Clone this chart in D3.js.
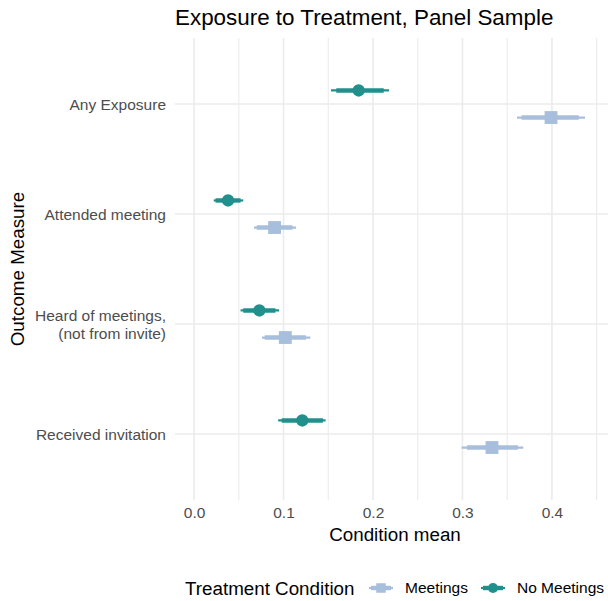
<!DOCTYPE html>
<html>
<head>
<meta charset="utf-8">
<script src="https://cdn.jsdelivr.net/npm/d3@7"></script>
<style>
  html, body { margin: 0; padding: 0; background: #ffffff; }
  svg { display: block; }
  text { font-family: "Liberation Sans", Arial, Helvetica, sans-serif; }
</style>
</head>
<body>
<script>
// ---------------- data ----------------
const categories = ["Any Exposure", "Attended meeting", "Heard of meetings,\n(not from invite)", "Received invitation"];
const seriesNames = ["Meetings", "No Meetings"];

const meetingsMean   = [0.399, 0.090, 0.102, 0.333];
const meetingsLo95   = [0.361, 0.067, 0.076, 0.299];
const meetingsHi95   = [0.437, 0.114, 0.130, 0.368];
const meetingsLo90   = [0.366, 0.070, 0.079, 0.305];
const meetingsHi90   = [0.430, 0.110, 0.125, 0.362];

const noMeetingsMean = [0.184, 0.038, 0.073, 0.121];
const noMeetingsLo95 = [0.153, 0.022, 0.052, 0.094];
const noMeetingsHi95 = [0.218, 0.055, 0.095, 0.147];
const noMeetingsLo90 = [0.159, 0.024, 0.055, 0.098];
const noMeetingsHi90 = [0.212, 0.052, 0.091, 0.144];

const xTicks = [0.0, 0.1, 0.2, 0.3, 0.4];
const xMinor = [0.05, 0.15, 0.25, 0.35, 0.45];

const titleText = "Exposure to Treatment, Panel Sample";
const xTitle = "Condition mean";
const yTitle = "Outcome Measure";
const legendTitle = "Treatment Condition";

// ---------------- layout ----------------
const W = 608, H = 601;
const panel = { left: 175, right: 615, top: 38, bottom: 500 };
const colors = { "Meetings": "#a7bedc", "No Meetings": "#21908c" };
const FONT_TICK = 15.5, FONT_TITLE = 22.4, FONT_AXIS = 18.8;

const svg = d3.select("body").append("svg").attr("width", W).attr("height", H);

const x = d3.scaleLinear().domain([-0.0213, 0.4705]).range([panel.left, panel.right]);
const y = d3.scalePoint().domain(categories).range([panel.top, panel.bottom]).padding(0.6);
const dodge = d3.scalePoint().domain(seriesNames.slice().reverse()).range([-0.123 * y.step(), 0.123 * y.step()]);

svg.append("clipPath").attr("id", "pc").append("rect")
  .attr("x", panel.left).attr("y", panel.top)
  .attr("width", panel.right - panel.left).attr("height", panel.bottom - panel.top);

const grid = svg.append("g");
grid.selectAll(".vmin").data(xMinor).join("line")
  .attr("x1", d => x(d)).attr("x2", d => x(d))
  .attr("y1", panel.top).attr("y2", panel.bottom)
  .attr("stroke", "#ebebeb").attr("stroke-width", 1.1);
grid.selectAll(".vmaj").data(xTicks).join("line")
  .attr("x1", d => x(d)).attr("x2", d => x(d))
  .attr("y1", panel.top).attr("y2", panel.bottom)
  .attr("stroke", "#ebebeb").attr("stroke-width", 1.6);
grid.selectAll(".hmaj").data(categories).join("line")
  .attr("x1", panel.left).attr("x2", panel.right)
  .attr("y1", d => y(d)).attr("y2", d => y(d))
  .attr("stroke", "#ebebeb").attr("stroke-width", 1.6);

// ---------------- marks ----------------
const rows = [];
categories.forEach((c, i) => {
  rows.push({ cat: c, s: "Meetings", m: meetingsMean[i], lo: meetingsLo95[i], hi: meetingsHi95[i], lo2: meetingsLo90[i], hi2: meetingsHi90[i] });
  rows.push({ cat: c, s: "No Meetings", m: noMeetingsMean[i], lo: noMeetingsLo95[i], hi: noMeetingsHi95[i], lo2: noMeetingsLo90[i], hi2: noMeetingsHi90[i] });
});
const yy = d => y(d.cat) + dodge(d.s);

const marks = svg.append("g").attr("clip-path", "url(#pc)");
marks.selectAll(".thin").data(rows).join("line")
  .attr("x1", d => x(d.lo)).attr("x2", d => x(d.hi))
  .attr("y1", yy).attr("y2", yy)
  .attr("stroke", d => colors[d.s]).attr("stroke-width", 2.2);
marks.selectAll(".thick").data(rows).join("line")
  .attr("x1", d => x(d.lo2)).attr("x2", d => x(d.hi2))
  .attr("y1", yy).attr("y2", yy)
  .attr("stroke", d => colors[d.s]).attr("stroke-width", 4.4);
const sym = d3.symbol();
marks.selectAll(".pt").data(rows).join("path")
  .attr("transform", d => `translate(${x(d.m)},${yy(d)})`)
  .attr("d", d => d.s === "Meetings" ? sym.type(d3.symbolSquare).size(165)() : sym.type(d3.symbolCircle).size(120)())
  .attr("fill", d => colors[d.s]);

// ---------------- axes ----------------
const xAxis = d3.axisBottom(x).tickValues(xTicks).tickFormat(d3.format(".1f")).tickSize(0).tickPadding(0);
const gx = svg.append("g").attr("transform", `translate(0,${panel.bottom})`).call(xAxis);
gx.select(".domain").remove();
gx.selectAll("text").attr("y", 18).attr("dy", 0)
  .attr("font-size", FONT_TICK).attr("fill", "#4d4d4d")
  .attr("font-family", "'Liberation Sans', Arial, sans-serif");

const yAxis = d3.axisLeft(y).tickSize(0).tickFormat("");
const gy = svg.append("g").attr("transform", `translate(${panel.left},0)`).call(yAxis);
gy.select(".domain").remove();
gy.selectAll(".tick").each(function(d) {
  const lines = d.split("\n");
  const lh = 18;
  const t = d3.select(this).select("text")
    .attr("x", -9).attr("text-anchor", "end")
    .attr("font-size", FONT_TICK).attr("fill", "#4d4d4d")
    .attr("font-family", "'Liberation Sans', Arial, sans-serif")
    .attr("dy", null);
  t.text(null);
  lines.forEach((ln, k) => {
    t.append("tspan").attr("x", -9)
      .attr("y", (k - (lines.length - 1) / 2) * lh + 5.4)
      .text(ln);
  });
});

// titles
svg.append("text").attr("x", panel.left).attr("y", 25)
  .attr("font-size", FONT_TITLE).attr("fill", "#000").text(titleText);
svg.append("text").attr("x", (panel.left + panel.right) / 2).attr("y", 541)
  .attr("text-anchor", "middle").attr("font-size", FONT_AXIS).attr("fill", "#000").text(xTitle);
svg.append("text")
  .attr("transform", `translate(24,${(panel.top + panel.bottom) / 2}) rotate(-90)`)
  .attr("text-anchor", "middle").attr("font-size", FONT_AXIS).attr("fill", "#000").text(yTitle);

// ---------------- legend ----------------
const legY = 588;
const leg = svg.append("g");
leg.append("text").attr("x", 185).attr("y", legY + 6.5)
  .attr("font-size", FONT_AXIS).attr("fill", "#000").text(legendTitle);
const keyX = { "Meetings": 381, "No Meetings": 493 };
const labX = { "Meetings": 405, "No Meetings": 517 };
seriesNames.forEach(s => {
  const g = leg.append("g").attr("transform", `translate(${keyX[s]},${legY})`);
  g.append("line").attr("x1", -12).attr("x2", 12).attr("stroke", colors[s]).attr("stroke-width", 2.2);
  g.append("line").attr("x1", -10).attr("x2", 10).attr("stroke", colors[s]).attr("stroke-width", 4.4);
  g.append("path")
    .attr("d", s === "Meetings" ? d3.symbol().type(d3.symbolSquare).size(90)() : d3.symbol().type(d3.symbolCircle).size(80)())
    .attr("fill", colors[s]);
  leg.append("text").attr("x", labX[s]).attr("y", legY + 5.4)
    .attr("font-size", FONT_TICK).attr("fill", "#000").text(s);
});
</script>
</body>
</html>
